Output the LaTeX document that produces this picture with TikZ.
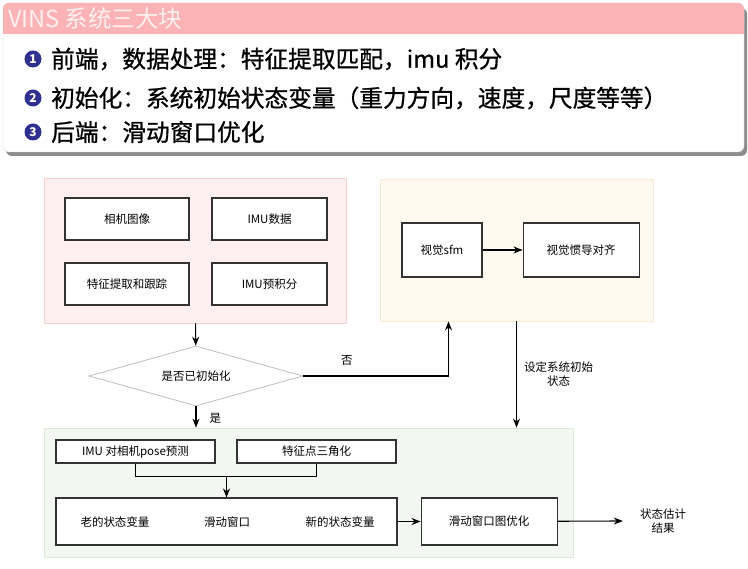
\documentclass[tikz,border=0pt]{standalone}
\usepackage{fontspec}
\setmainfont{Noto Sans CJK SC}
\newfontfamily\itemfont[FakeBold=0.8]{Noto Sans CJK SC}
\usetikzlibrary{positioning,arrows.meta,shapes.geometric}
\definecolor{hdrpink}{HTML}{FCB3B6}
\definecolor{numblue}{HTML}{2F308F}
\definecolor{frontfill}{HTML}{FDEEEF}
\definecolor{frontline}{HTML}{F6CFD0}
\definecolor{initfill}{HTML}{FFF9EF}
\definecolor{initline}{HTML}{F7E9D2}
\definecolor{backfill}{HTML}{F3F7F1}
\definecolor{backline}{HTML}{DFE8DB}

\begin{document}
\begin{tikzpicture}[x=1pt, y=-1pt, font=\fontsize{11.5}{14}\selectfont,
  box/.style={draw=black!80, line width=1.1pt, fill=white, inner sep=2pt},
  grp/.style={line width=0.8pt, inner sep=0pt},
  item/.style={anchor=west, inner sep=0pt, font=\itemfont\fontsize{23.7}{27}\selectfont},
  bullet/.style={circle, fill=numblue, text=white, inner sep=0pt, minimum size=17pt, font=\bfseries\fontsize{12}{12}\selectfont},
  lbl/.style={inner sep=1pt, align=center},
  >={Stealth[length=9pt, width=7pt]}]
\useasboundingbox (0,0) rectangle (748,569);

% title block
\fill[black!45, rounded corners=6pt] (6,8) rectangle (747,156);
\filldraw[fill=white, draw=black!15, rounded corners=6pt] (3,3) rectangle (744,152);
\fill[hdrpink, rounded corners=6pt] (3,3) rectangle (744,34);
\fill[hdrpink] (3,20) rectangle (744,34);
\node[anchor=west, inner sep=0pt, text=white!94!red, font=\fontsize{23.5}{26}\selectfont] (title) at (8,19) {VINS 系统三大块};
\node[bullet] (b1) at (33,59) {1};
\node[bullet] (b2) at (33,98) {2};
\node[bullet] (b3) at (33,132) {3};
\node[item] (i1) at (51,59) {前端，数据处理：特征提取匹配，imu 积分};
\node[item] (i2) at (51,98) {初始化：系统初始状态变量（重力方向，速度，尺度等等）};
\node[item] (i3) at (51,132) {后端：滑动窗口优化};

% front end
\node[grp, fill=frontfill, draw=frontline, minimum width=302pt, minimum height=145pt] (front) at (195,250.5) {};
\node[box, minimum width=124pt, minimum height=42pt] (cam) at (127,219) {相机图像};
\node[box, minimum width=115pt, minimum height=42pt] (imud) at (269.5,219) {IMU数据};
\node[box, minimum width=124pt, minimum height=42pt] (feat) at (127,284) {特征提取和跟踪};
\node[box, minimum width=115pt, minimum height=42pt] (preint) at (269.5,284) {IMU预积分};

% initialization
\node[grp, fill=initfill, draw=initline, minimum width=273pt, minimum height=142pt] (init) at (516.5,250) {};
\node[box, minimum width=80pt, minimum height=54pt] (sfm) at (442,250) {视觉sfm};
\node[box, minimum width=116pt, minimum height=54pt, right=40pt of sfm] (align) {视觉惯导对齐};
\draw[->, line width=1.1pt] (sfm) -- (align);

% decision
\node[diamond, draw=black!25, line width=0.8pt, fill=white, aspect=3.5, inner sep=0pt, minimum width=214pt, minimum height=60pt] (dec) at (196,376) {是否已初始化};
\draw[->, line width=1.1pt] (front) -- (dec);

% back end
\node[grp, fill=backfill, draw=backline, minimum width=529pt, minimum height=129pt] (back) at (308.5,492.5) {};
\node[box, minimum width=159pt, minimum height=23pt] (pose) at (135.5,451.5) {IMU 对相机pose预测};
\node[box, minimum width=159pt, minimum height=23pt] (tri) at (316.5,451.5) {特征点三角化};
\node[box, minimum width=341pt, minimum height=47pt] (win) at (226.5,521.5) {};
\node[lbl] (oldst) at (115,522) {老的状态变量};
\node[lbl] (swin) at (227,522) {滑动窗口};
\node[lbl] (newst) at (340,522) {新的状态变量};
\node[box, minimum width=136pt, minimum height=47pt, right=23pt of win] (opt) {滑动窗口图优化};
\node[lbl] (res) at (663,521) {状态估计\\结果};

\draw[->, line width=1.1pt] (dec.south) -- (dec.south |- back.north) node[lbl, pos=0.55, right=12pt] (yes) {是};
\draw[->, line width=1.1pt] (dec.east) -| ([xshift=-68pt]init.south) node[lbl, pos=0.15, above=9pt] (no) {否};
\draw[->, line width=1.1pt] (init.south) -- (init.south |- back.north) node[lbl, midway, right=6pt] (setst) {设定系统初始\\状态};
\draw[line width=1.1pt] (pose.south) -- ++(0,13) -| (tri.south);
\draw[->, line width=1.1pt] (win.north |- 0,476) -- (win.north);
\draw[->, line width=1.1pt] (win) -- (opt);
\draw[->, line width=1.1pt] (opt) -- ([xshift=-16pt]res.west);
\end{tikzpicture}
\end{document}
